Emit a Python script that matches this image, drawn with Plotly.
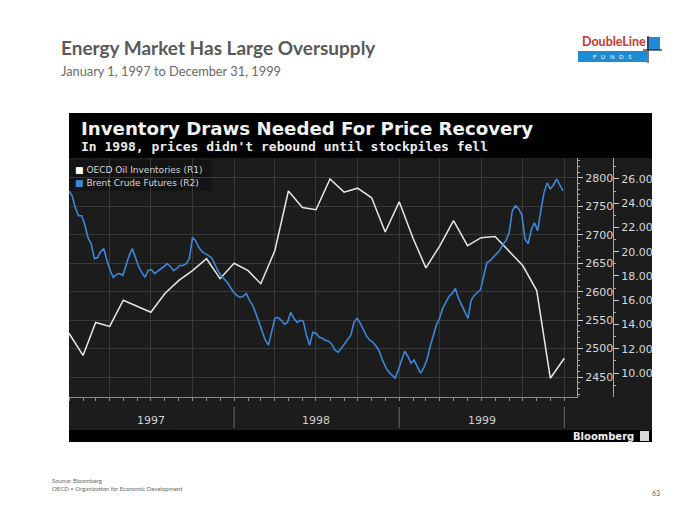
import pandas as pd
import plotly.graph_objects as go

# ---------------- data ----------------
oecd_inv = [2527, 2488, 2546, 2539, 2585, 2574, 2564, 2597, 2620, 2637, 2658, 2623,
            2650, 2637, 2614, 2672, 2777, 2748, 2744, 2798, 2775, 2782, 2765, 2705,
            2758, 2693, 2642, 2681, 2725, 2681, 2695, 2697, 2672, 2646, 2602, 2448, 2483]
oecd_dates = pd.date_range("1997-01-01", periods=len(oecd_inv), freq="MS")

brent = [25.01, 24.60, 23.62, 22.96, 22.96, 22.22, 21.16, 20.66, 19.43, 19.52, 20.01, 20.25,
         19.27, 18.45, 17.88, 18.12, 18.20, 18.04, 18.86, 19.68, 20.25, 19.52, 18.78, 18.29,
         17.88, 18.45, 18.53, 18.20, 18.37, 18.61, 18.78, 19.02, 18.78, 18.45, 18.61, 18.86,
         18.86, 19.02, 19.43, 21.16, 20.91, 20.34, 20.01, 19.84, 19.68, 19.52, 19.02, 18.45,
         18.04, 17.79, 17.47, 17.05, 16.64, 16.40, 16.23, 16.32, 16.56, 15.99, 15.58, 14.92,
         14.18, 13.28, 12.71, 12.30, 13.36, 14.51, 14.59, 14.35, 14.02, 14.18, 15.00, 14.51,
         14.18, 14.35, 14.27, 13.12, 12.30, 13.36, 13.28, 12.95, 12.87, 12.71, 12.63, 12.38,
         11.89, 11.72, 12.05, 12.38, 12.71, 13.12, 14.18, 14.51, 14.10, 13.53, 13.04, 12.71,
         12.54, 12.21, 11.80, 11.07, 10.49, 10.08, 9.84, 9.59, 10.25, 10.98, 11.80, 11.39,
         10.82, 11.07, 10.57, 10.00, 10.41, 11.07, 12.13, 13.04, 13.94, 14.51, 15.33, 15.82,
         16.32, 16.56, 16.97, 16.15, 15.58, 15.00, 14.51, 15.99, 16.40, 16.64, 16.89, 18.04,
         19.11, 19.27, 19.52, 19.76, 20.09, 20.58, 20.91, 21.57, 23.37, 23.78, 23.54, 23.04,
         21.07, 20.66, 21.81, 22.39, 21.73, 23.37, 24.85, 25.67, 25.18, 25.50, 26.00, 25.50,
         25.01]
brent_dates = pd.date_range("1997-01-01", periods=len(brent), freq="7D")

r1_ticks = [2450, 2500, 2550, 2600, 2650, 2700, 2750, 2800]
r2_ticks = [10, 12, 14, 16, 18, 20, 22, 24, 26]
years = ["1997", "1998", "1999"]
year_mid = ["1997-07-02", "1998-07-02", "1999-07-02"]
year_bounds = ["1998-01-01", "1999-01-01", "2000-01-01"]

W, H = 700, 525
def px(x): return x / W
def py(y): return 1 - y / H

fig = go.Figure()
fig.add_trace(go.Scatter(x=oecd_dates, y=oecd_inv, mode="lines", name="OECD Oil Inventories (R1)",
                         line=dict(color="#e6e6e6", width=1.5), yaxis="y", showlegend=False))
fig.add_trace(go.Scatter(x=brent_dates, y=brent, mode="lines", name="Brent Crude Futures (R2)",
                         line=dict(color="#3d86da", width=1.6), yaxis="y2", showlegend=False))

shapes = []
# chart panel
shapes.append(dict(type="rect", xref="paper", yref="paper", x0=px(69), x1=px(652), y0=py(442), y1=py(113),
                   fillcolor="#1c1c1c", line=dict(width=0), layer="below"))
shapes.append(dict(type="rect", xref="paper", yref="paper", x0=px(69), x1=px(652), y0=py(158), y1=py(113),
                   fillcolor="#000000", line=dict(width=0), layer="below"))
shapes.append(dict(type="rect", xref="paper", yref="paper", x0=px(69), x1=px(652), y0=py(442), y1=py(430),
                   fillcolor="#000000", line=dict(width=0), layer="below"))
# legend box
shapes.append(dict(type="rect", xref="paper", yref="paper", x0=px(69), x1=px(212), y0=py(191), y1=py(160),
                   fillcolor="#141414", line=dict(width=0), layer="below"))
# year separators
for d in year_bounds:
    shapes.append(dict(type="line", xref="x", yref="paper", x0=d, x1=d, y0=py(428), y1=py(407),
                       line=dict(color="#6a6a6a", width=1)))
# Bloomberg icon
shapes.append(dict(type="rect", xref="paper", yref="paper", x0=px(640), x1=px(649), y0=py(441), y1=py(431),
                   fillcolor="#d8d8d8", line=dict(width=0)))
# DoubleLine logo
shapes.append(dict(type="rect", xref="paper", yref="paper", x0=px(578), x1=px(647), y0=py(62), y1=py(51),
                   fillcolor="#1f8bd2", line=dict(width=0)))
shapes.append(dict(type="rect", xref="paper", yref="paper", x0=px(647), x1=px(660), y0=py(50), y1=py(37),
                   fillcolor="#1f8bd2", line=dict(width=0)))
shapes.append(dict(type="line", xref="paper", yref="paper", x0=px(648), x1=px(648), y0=py(63), y1=py(36),
                   line=dict(color="#222", width=1.2)))
shapes.append(dict(type="line", xref="paper", yref="paper", x0=px(643), x1=px(662), y0=py(50), y1=py(50),
                   line=dict(color="#222", width=1.2)))

ann = []
ann.append(dict(text="<b>Energy Market Has Large Oversupply</b>", x=px(59), y=py(48), xref="paper", yref="paper",
                xanchor="left", yanchor="middle", showarrow=False,
                font=dict(family="Lato", size=19, color="#595959")))
ann.append(dict(text="January 1, 1997 to December 31, 1999", x=px(59), y=py(71), xref="paper", yref="paper",
                xanchor="left", yanchor="middle", showarrow=False,
                font=dict(family="Lato", size=12.8, color="#6a6a6a")))
ann.append(dict(text="<b>DoubleLine</b>", x=px(580), y=py(42), xref="paper", yref="paper",
                xanchor="left", yanchor="middle", showarrow=False,
                font=dict(family="Lato", size=12.5, color="#c8372d")))
ann.append(dict(text="F   U   N   D   S", x=px(612), y=py(56.5), xref="paper", yref="paper",
                xanchor="center", yanchor="middle", showarrow=False,
                font=dict(family="Lato", size=6, color="#ffffff")))
ann.append(dict(text="<b>Inventory Draws Needed For Price Recovery</b>", x=px(79), y=py(128), xref="paper",
                yref="paper", xanchor="left", yanchor="middle", showarrow=False,
                font=dict(family="DejaVu Sans", size=18.2, color="#f2f2f2")))
ann.append(dict(text="<b>In 1998, prices didn't rebound until stockpiles fell</b>", x=px(79), y=py(146),
                xref="paper", yref="paper", xanchor="left", yanchor="middle", showarrow=False,
                font=dict(family="DejaVu Sans Mono", size=13, color="#ececec")))
ann.append(dict(text="<span style='color:#ffffff'>■</span> OECD Oil Inventories (R1)", x=px(73), y=py(170),
                xref="paper", yref="paper", xanchor="left", yanchor="middle", showarrow=False,
                font=dict(family="DejaVu Sans", size=9, color="#d6d6d6")))
ann.append(dict(text="<span style='color:#3d86da'>■</span> Brent Crude Futures (R2)", x=px(73), y=py(183),
                xref="paper", yref="paper", xanchor="left", yanchor="middle", showarrow=False,
                font=dict(family="DejaVu Sans", size=9, color="#d6d6d6")))
for yr, d in zip(years, year_mid):
    ann.append(dict(text=yr, x=d, y=py(420), xref="x", yref="paper", xanchor="center", yanchor="middle",
                    showarrow=False, font=dict(family="DejaVu Sans", size=11, color="#d0d0d0")))
ann.append(dict(text="<b>Bloomberg</b>", x=px(636), y=py(436), xref="paper", yref="paper",
                xanchor="right", yanchor="middle", showarrow=False,
                font=dict(family="DejaVu Sans", size=10, color="#f0f0f0")))
ann.append(dict(text="Source: Bloomberg<br>OECD = Organization for Economic Development", x=px(50), y=py(475),
                xref="paper", yref="paper", xanchor="left", yanchor="top", showarrow=False, align="left",
                font=dict(family="Lato", size=6, color="#666666")))
ann.append(dict(text="63", x=px(662), y=py(493), xref="paper", yref="paper", xanchor="right", yanchor="middle",
                showarrow=False, font=dict(family="Lato", size=7, color="#666666")))

axcol = "#a8a8a8"
fig.update_layout(
    width=W, height=H, margin=dict(l=0, r=0, t=0, b=0),
    paper_bgcolor="#ffffff", plot_bgcolor="rgba(0,0,0,0)",
    showlegend=False,
    xaxis=dict(domain=[px(69), px(577)], type="date", range=["1997-01-01", "2000-01-29"],
               showgrid=True, gridcolor="#383838", gridwidth=1, dtick="M3", tick0="1997-01-01",
               showticklabels=False, showline=True, linecolor="#8c8c8c", linewidth=1,
               ticks="outside", ticklen=3, tickcolor="#8c8c8c",
               minor=dict(dtick="M1", ticks="outside", ticklen=3, tickcolor="#8c8c8c", showgrid=False),
               zeroline=False, anchor="y"),
    yaxis=dict(domain=[py(397), py(158)], side="right", range=[2415, 2835], tickvals=r1_ticks,
               showgrid=True, gridcolor="#383838", gridwidth=1, showline=True, linecolor=axcol,
               ticks="outside", ticklen=5, tickcolor="#cfcfcf",
               minor=dict(dtick=10, ticks="outside", ticklen=2, tickcolor=axcol),
               tickfont=dict(family="DejaVu Sans", size=11, color="#d8d8d8"), zeroline=False, anchor="x"),
    yaxis2=dict(overlaying="y", side="right", anchor="free", position=px(613), range=[8.03, 27.72],
                tickvals=r2_ticks, tickformat=".2f", showgrid=False, showline=True, linecolor=axcol,
                ticks="outside", ticklen=5, tickcolor="#cfcfcf",
                minor=dict(dtick=1, ticks="outside", ticklen=2, tickcolor=axcol),
                tickfont=dict(family="DejaVu Sans", size=11, color="#d8d8d8"), zeroline=False),
    shapes=shapes, annotations=ann,
)

fig.write_html("out.html")
